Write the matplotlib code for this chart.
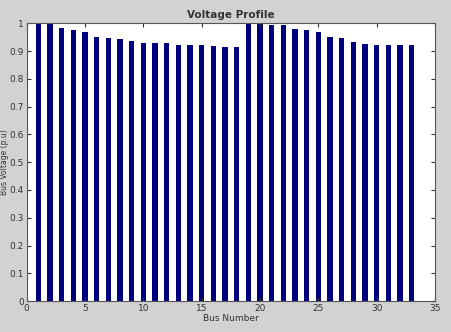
import matplotlib
matplotlib.use("Agg")
import matplotlib.pyplot as plt
import numpy as np

buses = list(range(1, 34))
voltages = [1.000, 0.998, 0.982, 0.976, 0.969, 0.951, 0.947, 0.944, 0.935, 0.930,
            0.930, 0.928, 0.923, 0.921, 0.920, 0.917, 0.915, 0.915, 1.000, 0.997,
            0.995, 0.994, 0.980, 0.975, 0.970, 0.949, 0.946, 0.934, 0.927, 0.922,
            0.920, 0.920, 0.920]
xticks = [0, 5, 10, 15, 20, 25, 30, 35]
yticks = [0, 0.1, 0.2, 0.3, 0.4, 0.5, 0.6, 0.7, 0.8, 0.9, 1.0]
ytick_labels = ["0", "0.1", "0.2", "0.3", "0.4", "0.5", "0.6", "0.7", "0.8", "0.9", "1"]

fig = plt.figure(figsize=(4.51, 3.32), dpi=100, facecolor="#d2d2d2")
ax = fig.add_axes([0.059, 0.093, 0.9055, 0.837])
ax.set_facecolor("white")
ax.bar(buses, voltages, width=0.47, color="#00007f", edgecolor="none")
ax.set_xlim(0, 35)
ax.set_ylim(0, 1)
ax.set_xticks(xticks)
ax.set_xticklabels([str(t) for t in xticks])
ax.set_yticks(yticks)
ax.set_yticklabels(ytick_labels)
ax.tick_params(direction="in", length=3, labelsize=6.5, colors="#333333", pad=2,
               top=True, right=True)
for lbl in ax.get_xticklabels() + ax.get_yticklabels():
    lbl.set_fontweight("medium")
for s in ax.spines.values():
    s.set_color("#555555")
    s.set_linewidth(0.8)
ax.set_title("Voltage Profile", fontsize=7.5, fontweight="bold", color="#333333", pad=4)
ax.set_xlabel("Bus Number", fontsize=6.5, color="#333333", labelpad=1)
ax.set_ylabel("Bus Voltage (p.u)", fontsize=5.5, color="#333333")
ax.yaxis.set_label_coords(-0.044, 0.5)
fig.savefig("out.png", dpi=100, facecolor=fig.get_facecolor())
